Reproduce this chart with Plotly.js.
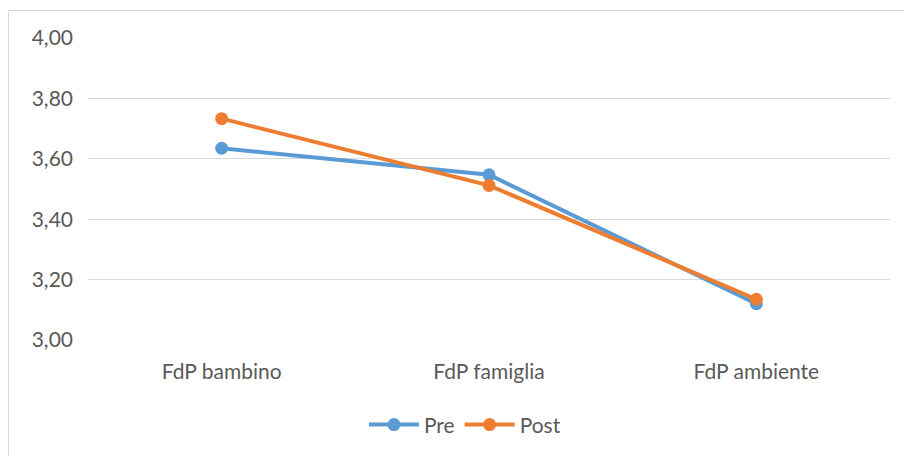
<!DOCTYPE html>
<html>
<head>
<meta charset="utf-8">
<script src="https://cdn.plot.ly/plotly-3.0.1.min.js"></script>
<style>
html,body{margin:0;padding:0;background:#fff;overflow:hidden;}
#wrap{position:relative;width:904px;height:456px;}
#chart{position:absolute;left:0;top:0;width:904px;height:456px;}
#frame{position:absolute;left:8px;top:10px;width:900px;height:460px;border:1px solid #d9d9d9;pointer-events:none;}
</style>
</head>
<body>
<div id="wrap"><div id="chart"></div><div id="frame"></div></div>
<script>
const categories = ["FdP bambino", "FdP famiglia", "FdP ambiente"];
const preValues = [3.635, 3.547, 3.12];
const postValues = [3.733, 3.512, 3.135];
const yTicks = [3.0, 3.2, 3.4, 3.6, 3.8, 4.0];

const fontFam = "Lato, 'Open Sans', sans-serif";
const traces = [
  {x: categories, y: preValues, name: "Pre", type: "scatter", mode: "lines+markers",
   line: {color: "#5B9BD5", width: 4}, marker: {color: "#5B9BD5", size: 13}},
  {x: categories, y: postValues, name: "Post", type: "scatter", mode: "lines+markers",
   line: {color: "#ED7D31", width: 4}, marker: {color: "#ED7D31", size: 13}}
];
const layout = {
  width: 904, height: 456,
  margin: {l: 88, r: 14, t: 38, b: 115},
  paper_bgcolor: "rgba(0,0,0,0)", plot_bgcolor: "#fff",
  separators: ", ",
  font: {family: fontFam, size: 21, color: "#595959"},
  showlegend: true,
  legend: {orientation: "h", x: 0.47, xanchor: "center", y: -0.277, yanchor: "middle",
           font: {size: 21, color: "#595959"}, itemwidth: 50, tracegroupgap: 0},
  xaxis: {type: "category", range: [-0.5, 2.5], showgrid: false, zeroline: false, showline: false,
          ticks: "", ticklabelstandoff: 17, tickfont: {size: 21, color: "#595959"}},
  yaxis: {range: [3, 4], tickvals: yTicks, tickformat: ".2f", showgrid: true,
          gridcolor: "#d9d9d9", gridwidth: 1, zeroline: false, showline: false,
          ticks: "", ticklabelstandoff: 14, tickfont: {size: 21, color: "#595959"}}
};
Plotly.newPlot("chart", traces, layout, {displayModeBar: false, staticPlot: true});
</script>
</body>
</html>
